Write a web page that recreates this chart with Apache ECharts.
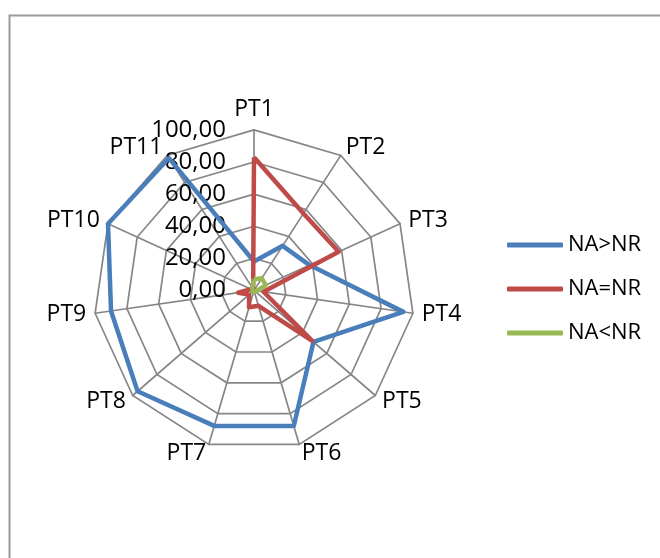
<!DOCTYPE html>
<html>
<head>
<meta charset="utf-8">
<script src="https://cdn.jsdelivr.net/npm/echarts@6/dist/echarts.min.js"></script>
<style>
html,body{margin:0;padding:0;background:#fff;}
#chart{width:660px;height:558px;}
</style>
</head>
<body>
<div id="chart"></div>
<script>
const categories = ['PT1','PT2','PT3','PT4','PT5','PT6','PT7','PT8','PT9','PT10','PT11'];
const seriesNames = ['NA>NR','NA=NR','NA<NR'];
const naGreater = [18, 33, 38, 94, 49, 88, 88, 96, 90, 100, 98];
const naEqual   = [83, 57, 58, 6, 48, 10, 11, 4, 10, 2, 1];
const naLess    = [7, 9, 8, 2, 1, 1, 1, 1, 1, 1, 2];
const axisMax = 100;
const axisInterval = 20;

const FONT = '"Open Sans", sans-serif';
// ECharts places radar indicators counter-clockwise; reorder for clockwise (Excel) order
const order = [0].concat(categories.map((_, i) => i).slice(1).reverse());
const reorder = arr => order.map(i => arr[i]);

const indicator = order.map((i, k) => {
  const o = { name: categories[i], max: axisMax, min: 0 };
  if (k !== 0) o.axisLabel = { show: false };
  return o;
});

const colors = ['#4A7EBB', '#BE4B48', '#98B954'];
const chart = echarts.init(document.getElementById('chart'), null, { renderer: 'canvas' });
chart.setOption({
  animation: false,
  backgroundColor: '#fff',
  graphic: [{
    type: 'rect', left: 7, top: 13,
    shape: { width: 700, height: 600 },
    style: { fill: 'none', stroke: '#9a9a9a', lineWidth: 2 },
    silent: true
  }],
  legend: {
    orient: 'vertical',
    left: 502, top: 229,
    itemWidth: 56, itemHeight: 5,
    itemGap: 22,
    icon: 'roundRect',
    textStyle: { fontFamily: FONT, fontSize: 22, color: '#000' },
    data: seriesNames
  },
  radar: {
    center: [254, 290.4],
    radius: 160.5,
    startAngle: 90,
    shape: 'polygon',
    splitNumber: 5,
    nameGap: 9,
    axisName: { color: '#000', fontFamily: FONT, fontSize: 23 },
    axisLine: { lineStyle: { color: '#868686', width: 1.7 } },
    splitLine: { lineStyle: { color: '#868686', width: 1.7 } },
    splitArea: { show: false },
    axisTick: { show: false },
    axisLabel: {
      show: true,
      margin: 28,
      color: '#000',
      fontFamily: FONT,
      fontSize: 24,
      formatter: v => Number(v).toFixed(2).replace('.', ',')
    },
    indicator: indicator
  },
  series: [{
    type: 'radar',
    symbol: 'none',
    data: [
      { name: seriesNames[0], value: reorder(naGreater), lineStyle: { color: colors[0], width: 4.5 }, itemStyle: { color: colors[0] } },
      { name: seriesNames[1], value: reorder(naEqual), lineStyle: { color: colors[1], width: 4.5 }, itemStyle: { color: colors[1] } },
      { name: seriesNames[2], value: reorder(naLess), lineStyle: { color: colors[2], width: 4.5 }, itemStyle: { color: colors[2] } }
    ]
  }]
});
</script>
</body>
</html>
